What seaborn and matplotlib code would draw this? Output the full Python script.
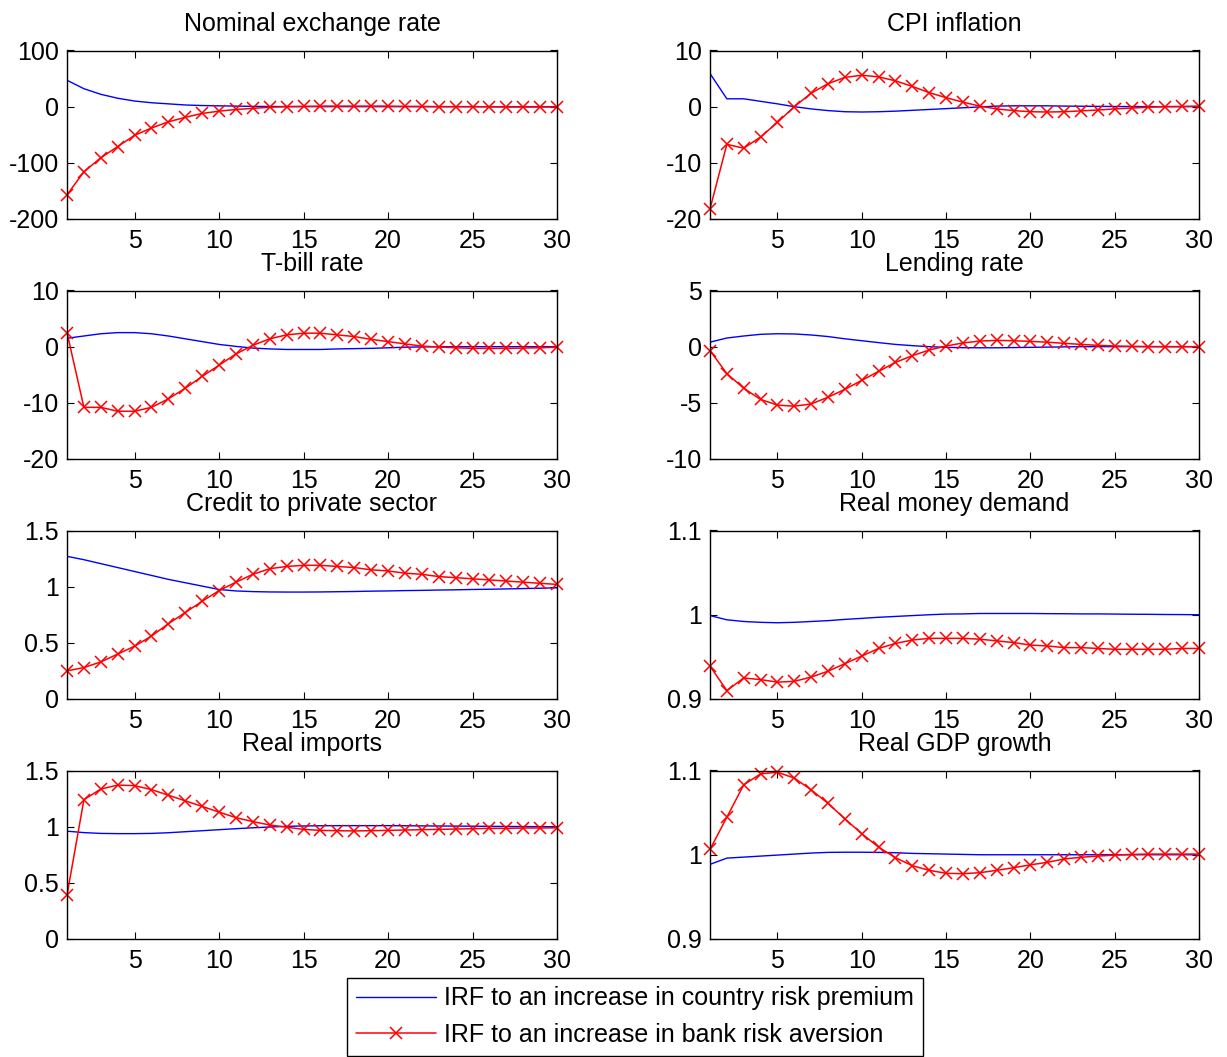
import numpy as np
import pandas as pd
import matplotlib
matplotlib.use("Agg")
import matplotlib.pyplot as plt
import seaborn as sns
from matplotlib.lines import Line2D
from matplotlib.ticker import FuncFormatter

# ---------------- data ----------------
horizon = list(range(1, 31))

titles = ["Nominal exchange rate", "CPI inflation", "T-bill rate", "Lending rate",
          "Credit to private sector", "Real money demand", "Real imports", "Real GDP growth"]

ylims = [(-200, 100), (-20, 10), (-20, 10), (-10, 5), (0, 1.5), (0.9, 1.1), (0, 1.5), (0.9, 1.1)]
yticks = [[-200, -100, 0, 100], [-20, -10, 0, 10], [-20, -10, 0, 10], [-10, -5, 0, 5],
          [0, 0.5, 1, 1.5], [0.9, 1, 1.1], [0, 0.5, 1, 1.5], [0.9, 1, 1.1]]
xticks = [5, 10, 15, 20, 25, 30]

# IRF to an increase in country risk premium (blue)
risk_exch = [47, 32, 22, 15, 10, 7, 5, 3, 2, 1.5, 1, 0.5, 0.3, 0.2, 0.1, 0, 0, 0, 0, 0,
             0, 0, 0, 0, 0, 0, 0, 0, 0, 0]
risk_cpi = [5.9, 1.4, 1.4, 0.95, 0.5, 0.0, -0.4, -0.7, -0.9, -0.95, -0.9, -0.8, -0.65, -0.5, -0.35,
            -0.2, -0.05, 0.1, 0.15, 0.15, 0.15, 0.1, 0.08, 0.05, 0.03, 0.02, 0.01, 0, 0, 0]
risk_tbill = [1.5, 1.9, 2.3, 2.5, 2.5, 2.3, 1.9, 1.4, 0.9, 0.4, 0.05, -0.25, -0.4, -0.5, -0.5,
              -0.5, -0.4, -0.35, -0.3, -0.2, -0.1, -0.05, 0, 0, 0, 0, 0, 0, 0, 0]
risk_lend = [0.4, 0.77, 0.95, 1.1, 1.15, 1.13, 1.04, 0.9, 0.7, 0.53, 0.36, 0.2, 0.09, 0.0, -0.06,
             -0.09, -0.1, -0.1, -0.08, -0.06, -0.04, -0.02, 0, 0, 0, 0, 0, 0, 0, 0]
risk_credit = [1.27, 1.24, 1.205, 1.17, 1.135, 1.10, 1.065, 1.035, 1.005, 0.975, 0.962, 0.956,
               0.953, 0.952, 0.952, 0.953, 0.955, 0.957, 0.96, 0.962, 0.965, 0.967, 0.97, 0.972,
               0.975, 0.977, 0.98, 0.983, 0.986, 0.99]
risk_money = [0.999, 0.994, 0.992, 0.991, 0.9905, 0.991, 0.992, 0.993, 0.9945, 0.9957, 0.997,
              0.998, 0.999, 1.0, 1.0008, 1.001, 1.0015, 1.0015, 1.0015, 1.0015, 1.0013, 1.0012,
              1.001, 1.001, 1.0008, 1.0006, 1.0005, 1.0003, 1.0002, 1.0]
risk_imports = [0.96, 0.947, 0.94, 0.938, 0.938, 0.94, 0.946, 0.955, 0.964, 0.973, 0.982, 0.99,
                0.997, 1.003, 1.006, 1.008, 1.009, 1.009, 1.009, 1.009, 1.008, 1.007, 1.006,
                1.005, 1.004, 1.003, 1.002, 1.001, 1.0, 1.0]
risk_gdp = [0.9886, 0.996, 0.9972, 0.9984, 0.9996, 1.0008, 1.002, 1.0028, 1.003, 1.003, 1.0028,
            1.0024, 1.0016, 1.0012, 1.0008, 1.0004, 1.0, 1.0, 1.0, 1.0, 1.0, 1.0, 1.0, 1.0,
            1.0, 1.0, 1.0, 1.0, 1.0, 1.0]

# IRF to an increase in bank risk aversion (red)
bank_exch = [-157, -116, -91, -71, -51, -38, -27, -19, -12, -8, -5, -3, -1, 0, 0.5, 1, 1, 1, 1, 1,
             0.5, 0.5, 0, 0, 0, -0.3, -0.5, -0.5, -0.5, -0.5]
bank_cpi = [-18.2, -6.7, -7.4, -5.4, -2.8, 0.0, 2.4, 4.1, 5.2, 5.6, 5.3, 4.6, 3.6, 2.5, 1.6, 0.8,
            0.1, -0.4, -0.7, -0.9, -0.95, -0.9, -0.75, -0.6, -0.4, -0.25, -0.1, 0.0, 0.05, 0.1]
bank_tbill = [2.5, -10.8, -10.8, -11.5, -11.5, -10.8, -9.3, -7.4, -5.3, -3.3, -1.3, 0.24, 1.4,
              2.1, 2.4, 2.4, 2.1, 1.8, 1.3, 0.9, 0.5, 0.1, -0.06, -0.2, -0.3, -0.3, -0.3,
              -0.25, -0.2, -0.1]
bank_lend = [-0.35, -2.4, -3.7, -4.7, -5.2, -5.3, -5.1, -4.5, -3.8, -3.0, -2.2, -1.4, -0.8, -0.3,
             0.06, 0.33, 0.5, 0.56, 0.53, 0.47, 0.4, 0.3, 0.2, 0.12, 0.06, 0.03, 0.01, 0, 0, 0]
bank_credit = [0.25, 0.28, 0.33, 0.40, 0.47, 0.56, 0.67, 0.77, 0.87, 0.965, 1.04, 1.11, 1.16, 1.18,
               1.19, 1.19, 1.18, 1.17, 1.15, 1.14, 1.12, 1.11, 1.09, 1.08, 1.07, 1.06, 1.05,
               1.04, 1.03, 1.02]
bank_money = [0.939, 0.910, 0.925, 0.923, 0.920, 0.921, 0.926, 0.933, 0.942, 0.951, 0.960, 0.966,
              0.970, 0.972, 0.972, 0.972, 0.971, 0.969, 0.967, 0.964, 0.963, 0.961, 0.961, 0.960,
              0.959, 0.959, 0.959, 0.959, 0.960, 0.960]
bank_imports = [0.39, 1.24, 1.335, 1.37, 1.365, 1.33, 1.28, 1.23, 1.18, 1.13, 1.08, 1.045, 1.015,
                0.995, 0.976, 0.967, 0.964, 0.962, 0.964, 0.967, 0.97, 0.973, 0.976, 0.979,
                0.982, 0.985, 0.985, 0.988, 0.988, 0.99]
bank_gdp = [1.0063, 1.0446, 1.083, 1.096, 1.098, 1.091, 1.077, 1.061, 1.0426, 1.025, 1.009,
            0.9965, 0.987, 0.9815, 0.978, 0.9775, 0.9787, 0.9815, 0.9846, 0.988, 0.991, 0.995,
            0.997, 0.9984, 0.9996, 1.0004, 1.0008, 1.0008, 1.0008, 1.0008]

risk_series = [risk_exch, risk_cpi, risk_tbill, risk_lend, risk_credit, risk_money, risk_imports, risk_gdp]
bank_series = [bank_exch, bank_cpi, bank_tbill, bank_lend, bank_credit, bank_money, bank_imports, bank_gdp]

legend_labels = ["IRF to an increase in country risk premium",
                 "IRF to an increase in bank risk aversion"]

# ---------------- style ----------------
sns.set_style("ticks")
plt.rcParams["font.family"] = ["Liberation Sans", "DejaVu Sans"]
for k in ["text.color", "axes.labelcolor", "xtick.color", "ytick.color", "axes.edgecolor"]:
    plt.rcParams[k] = "black"
plt.rcParams["xtick.direction"] = "in"
plt.rcParams["ytick.direction"] = "in"
FS = 18

W, H = 1227, 1057
fig = plt.figure(figsize=(W / 100, H / 100), dpi=100)

col_left = [67, 710]
col_width = [490, 489]
row_bottom = [219, 459, 699, 939]
ax_h = 168.5


def g_fmt(v, pos):
    return "%g" % v


for i in range(8):
    r, c = divmod(i, 2)
    x0 = col_left[c] / W
    y0 = 1 - row_bottom[r] / H
    ax = fig.add_axes([x0, y0, col_width[c] / W, ax_h / H])
    df = pd.DataFrame({"h": horizon, "risk": risk_series[i], "bank": bank_series[i]})
    sns.lineplot(data=df, x="h", y="risk", ax=ax, color=(0, 0, 1), linewidth=1.0)
    sns.lineplot(data=df, x="h", y="bank", ax=ax, color=(1, 0, 0), linewidth=1.1,
                 marker="x", markersize=9, markeredgewidth=1.1, markeredgecolor=(1, 0, 0),
                 clip_on=False)
    ax.set_xlim(1, 30)
    ax.set_ylim(*ylims[i])
    ax.set_xticks(xticks)
    ax.set_yticks(yticks[i])
    ax.yaxis.set_major_formatter(FuncFormatter(g_fmt))
    ax.set_xlabel("")
    ax.set_ylabel("")
    ax.tick_params(axis="both", which="major", labelsize=FS, direction="in",
                   length=5, width=0.8, top=True, right=True, color="black",
                   labelcolor="black")
    ax.tick_params(axis="x", pad=7)
    ax.tick_params(axis="y", pad=6)
    for s in ax.spines.values():
        s.set_visible(True)
        s.set_color("black")
        s.set_linewidth(1.0)
    ax.set_title(titles[i], fontsize=FS, pad=14, color="black")
    ax.set_facecolor("white")

handles = [Line2D([], [], color=(0, 0, 1), linewidth=1.0),
           Line2D([], [], color=(1, 0, 0), linewidth=1.1, marker="x", markersize=9,
                  markeredgewidth=1.1)]
leg = fig.legend(handles, legend_labels, loc="center",
                 bbox_to_anchor=(635 / W, 1 - 1016.5 / H), fontsize=FS,
                 frameon=True, fancybox=False, edgecolor="black", framealpha=1,
                 handlelength=3.2, handletextpad=0.35, labelspacing=0.5,
                 borderpad=0.35, numpoints=1, borderaxespad=0)
leg.get_frame().set_linewidth(1.0)

fig.savefig("out.png", dpi=100, facecolor="white")
